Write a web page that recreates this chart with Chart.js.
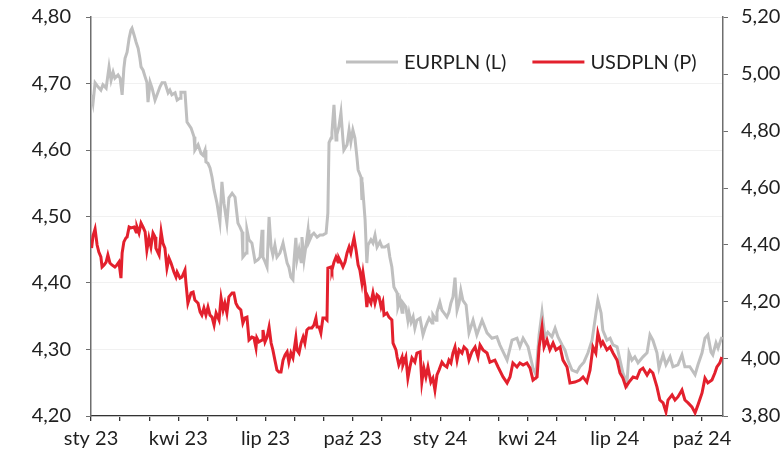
<!DOCTYPE html>
<html lang="pl">
<head>
<meta charset="utf-8">
<title>EURPLN i USDPLN</title>
<script src="https://cdn.jsdelivr.net/npm/chart.js@4.4.1/dist/chart.umd.min.js"></script>
<style>
  html, body { margin: 0; padding: 0; background: #fff; }
  #wrap { position: relative; width: 783px; height: 452px; }
</style>
</head>
<body>
<div id="wrap"><canvas id="fxChart"></canvas></div>
<script>
// x = months since start of Jan 2023
const eurMonths = [
  0.02, 0.07, 0.14, 0.24, 0.34, 0.41, 0.52, 0.62, 0.69, 0.76, 0.82, 0.93, 1.00, 1.07, 1.13, 1.17,
  1.24, 1.31, 1.37, 1.41, 1.48, 1.55, 1.62, 1.68, 1.72, 1.79, 1.86, 1.92, 1.96, 2.03, 2.10, 2.20,
  2.27, 2.37, 2.44, 2.54, 2.65, 2.71, 2.78, 2.89, 2.96, 3.06, 3.09, 3.23, 3.30, 3.44, 3.54, 3.57,
  3.68, 3.78, 3.85, 3.92, 3.95, 4.02, 4.09, 4.16, 4.23, 4.33, 4.43, 4.50, 4.57, 4.67, 4.74, 4.85,
  4.95, 5.05, 5.12, 5.19, 5.22, 5.33, 5.36, 5.43, 5.53, 5.57, 5.64, 5.74, 5.81, 5.88, 5.91, 5.98,
  6.05, 6.12, 6.19, 6.25, 6.32, 6.39, 6.49, 6.56, 6.60, 6.67, 6.74, 6.80, 6.87, 6.94, 6.98, 7.04,
  7.08, 7.15, 7.22, 7.25, 7.32, 7.39, 7.46, 7.49, 7.59, 7.66, 7.77, 7.87, 7.97, 8.08, 8.14, 8.18,
  8.25, 8.28, 8.35, 8.42, 8.45, 8.52, 8.59, 8.66, 8.69, 8.80, 8.87, 8.93, 9.00, 9.07, 9.14, 9.18,
  9.28, 9.31, 9.35, 9.42, 9.48, 9.52, 9.62, 9.69, 9.76, 9.83, 9.93, 10.00, 10.10, 10.21, 10.27, 10.34,
  10.41, 10.52, 10.55, 10.62, 10.69, 10.72, 10.82, 10.89, 10.93, 11.00, 11.07, 11.13, 11.20, 11.31, 11.41, 11.48,
  11.55, 11.62, 11.72, 11.75, 11.86, 11.89, 11.99, 12.06, 12.13, 12.23, 12.30, 12.37, 12.44, 12.51, 12.58, 12.65,
  12.71, 12.78, 12.89, 12.99, 13.13, 13.26, 13.44, 13.61, 13.78, 13.95, 14.05, 14.30, 14.47, 14.64, 14.74, 14.85,
  15.02, 15.19, 15.29, 15.40, 15.50, 15.60, 15.70, 15.84, 15.95, 16.05, 16.19, 16.29, 16.39, 16.53, 16.70, 16.80,
  16.94, 17.08, 17.22, 17.32, 17.42, 17.53, 17.59, 17.73, 17.84, 17.94, 18.08, 18.18, 18.28, 18.42, 18.49, 18.59,
  18.69, 18.80, 18.97, 19.11, 19.21, 19.31, 19.45, 19.52, 19.66, 19.76, 19.90, 20.00, 20.17, 20.31, 20.41, 20.58,
  20.76, 20.86, 21.00, 21.10, 21.20, 21.31, 21.37, 21.48, 21.55, 21.68
];
const eurValues = [
  4.683, 4.671, 4.701, 4.695, 4.690, 4.698, 4.693, 4.725, 4.705, 4.717, 4.708, 4.713, 4.708, 4.683, 4.723, 4.738,
  4.747, 4.768, 4.780, 4.783, 4.773, 4.762, 4.753, 4.738, 4.725, 4.720, 4.710, 4.702, 4.672, 4.702, 4.693, 4.675,
  4.683, 4.695, 4.701, 4.701, 4.686, 4.690, 4.683, 4.686, 4.675, 4.678, 4.687, 4.687, 4.642, 4.633, 4.620, 4.600,
  4.608, 4.595, 4.592, 4.600, 4.582, 4.580, 4.573, 4.559, 4.540, 4.520, 4.492, 4.552, 4.520, 4.490, 4.528, 4.535,
  4.529, 4.490, 4.484, 4.477, 4.439, 4.445, 4.480, 4.465, 4.460, 4.450, 4.432, 4.435, 4.439, 4.480, 4.439, 4.432,
  4.424, 4.499, 4.454, 4.442, 4.457, 4.439, 4.445, 4.454, 4.460, 4.445, 4.430, 4.424, 4.409, 4.405, 4.435, 4.468,
  4.435, 4.450, 4.432, 4.469, 4.435, 4.457, 4.480, 4.462, 4.472, 4.475, 4.469, 4.472, 4.472, 4.475, 4.505, 4.611,
  4.618, 4.626, 4.668, 4.615, 4.623, 4.635, 4.656, 4.615, 4.600, 4.608, 4.630, 4.612, 4.630, 4.618, 4.589, 4.570,
  4.559, 4.525, 4.535, 4.495, 4.430, 4.457, 4.465, 4.460, 4.472, 4.454, 4.462, 4.454, 4.454, 4.457, 4.439, 4.424,
  4.394, 4.385, 4.364, 4.374, 4.356, 4.370, 4.364, 4.344, 4.355, 4.341, 4.349, 4.332, 4.344, 4.347, 4.322, 4.332,
  4.340, 4.347, 4.340, 4.352, 4.344, 4.356, 4.371, 4.359, 4.355, 4.349, 4.356, 4.370, 4.379, 4.408, 4.359, 4.370,
  4.389, 4.374, 4.367, 4.325, 4.344, 4.322, 4.344, 4.325, 4.317, 4.319, 4.307, 4.284, 4.314, 4.317, 4.304, 4.317,
  4.304, 4.272, 4.262, 4.322, 4.356, 4.319, 4.326, 4.319, 4.332, 4.319, 4.307, 4.299, 4.284, 4.269, 4.266, 4.274,
  4.281, 4.295, 4.314, 4.344, 4.374, 4.355, 4.329, 4.314, 4.317, 4.307, 4.304, 4.284, 4.265, 4.250, 4.295, 4.284,
  4.289, 4.280, 4.289, 4.295, 4.322, 4.314, 4.295, 4.272, 4.292, 4.277, 4.289, 4.274, 4.277, 4.292, 4.274, 4.274,
  4.262, 4.277, 4.295, 4.317, 4.322, 4.296, 4.292, 4.310, 4.302, 4.319
];

const usdMonths = [
  0.02, 0.07, 0.14, 0.21, 0.27, 0.34, 0.38, 0.45, 0.52, 0.58, 0.65, 0.72, 0.82, 0.89, 0.96, 1.03,
  1.07, 1.13, 1.20, 1.24, 1.31, 1.37, 1.48, 1.55, 1.58, 1.65, 1.72, 1.79, 1.86, 1.92, 1.99, 2.06,
  2.13, 2.20, 2.23, 2.34, 2.41, 2.47, 2.54, 2.61, 2.68, 2.75, 2.85, 2.92, 2.96, 3.06, 3.13, 3.23,
  3.26, 3.33, 3.44, 3.51, 3.57, 3.68, 3.75, 3.81, 3.88, 3.95, 4.02, 4.09, 4.16, 4.23, 4.30, 4.40,
  4.47, 4.54, 4.60, 4.67, 4.74, 4.85, 4.91, 4.98, 5.05, 5.15, 5.22, 5.29, 5.36, 5.43, 5.53, 5.60,
  5.67, 5.70, 5.77, 5.88, 5.91, 5.98, 6.05, 6.12, 6.19, 6.25, 6.32, 6.39, 6.46, 6.53, 6.60, 6.67,
  6.74, 6.80, 6.87, 6.94, 7.04, 7.08, 7.15, 7.22, 7.29, 7.35, 7.42, 7.49, 7.59, 7.66, 7.73, 7.77,
  7.84, 7.90, 7.97, 8.04, 8.11, 8.14, 8.25, 8.28, 8.35, 8.42, 8.49, 8.52, 8.59, 8.66, 8.73, 8.80,
  8.87, 8.93, 9.00, 9.04, 9.11, 9.18, 9.24, 9.31, 9.35, 9.42, 9.48, 9.52, 9.62, 9.69, 9.76, 9.83,
  9.90, 9.97, 10.03, 10.07, 10.17, 10.24, 10.34, 10.38, 10.48, 10.52, 10.58, 10.69, 10.72, 10.82, 10.89, 10.96,
  11.03, 11.13, 11.20, 11.31, 11.37, 11.44, 11.51, 11.58, 11.68, 11.75, 11.82, 11.89, 11.96, 12.06, 12.13, 12.23,
  12.30, 12.37, 12.44, 12.51, 12.58, 12.65, 12.75, 12.82, 12.92, 12.99, 13.09, 13.20, 13.30, 13.37, 13.47, 13.61,
  13.71, 13.88, 13.99, 14.16, 14.30, 14.40, 14.50, 14.64, 14.74, 14.85, 14.98, 15.09, 15.19, 15.33, 15.40, 15.50,
  15.57, 15.67, 15.77, 15.88, 15.98, 16.12, 16.22, 16.36, 16.46, 16.63, 16.80, 16.91, 17.04, 17.15, 17.25, 17.35,
  17.42, 17.53, 17.59, 17.73, 17.84, 17.94, 18.08, 18.18, 18.28, 18.38, 18.49, 18.63, 18.76, 18.87, 18.97, 19.11,
  19.21, 19.31, 19.45, 19.55, 19.66, 19.76, 19.83, 19.97, 20.07, 20.17, 20.31, 20.41, 20.52, 20.65, 20.76, 20.86,
  21.00, 21.10, 21.20, 21.34, 21.44, 21.51, 21.61, 21.68
];
const usdValues = [
  4.389, 4.432, 4.456, 4.400, 4.375, 4.358, 4.323, 4.330, 4.340, 4.365, 4.337, 4.330, 4.323, 4.330, 4.340, 4.284,
  4.372, 4.411, 4.425, 4.428, 4.463, 4.460, 4.463, 4.446, 4.463, 4.442, 4.477, 4.463, 4.446, 4.382, 4.425, 4.393,
  4.442, 4.428, 4.389, 4.365, 4.446, 4.407, 4.389, 4.319, 4.354, 4.337, 4.305, 4.288, 4.305, 4.284, 4.288, 4.312,
  4.270, 4.196, 4.232, 4.235, 4.207, 4.196, 4.165, 4.154, 4.179, 4.154, 4.182, 4.154, 4.147, 4.119, 4.161, 4.137,
  4.214, 4.172, 4.196, 4.161, 4.218, 4.232, 4.232, 4.196, 4.182, 4.172, 4.126, 4.144, 4.147, 4.067, 4.077, 4.074,
  4.039, 4.074, 4.060, 4.067, 4.102, 4.060, 4.077, 4.112, 4.056, 4.032, 3.996, 3.961, 3.954, 3.954, 3.996, 4.014,
  4.025, 3.989, 4.021, 4.004, 4.074, 4.032, 4.021, 4.056, 4.077, 4.056, 4.102, 4.109, 4.109, 4.119, 4.144, 4.112,
  4.112, 4.091, 4.144, 4.144, 4.137, 4.319, 4.323, 4.312, 4.340, 4.358, 4.340, 4.354, 4.340, 4.323, 4.340, 4.372,
  4.393, 4.372, 4.407, 4.425, 4.382, 4.330, 4.312, 4.267, 4.302, 4.253, 4.182, 4.218, 4.196, 4.232, 4.196, 4.225,
  4.218, 4.182, 4.200, 4.154, 4.161, 4.147, 4.137, 4.056, 4.032, 4.007, 3.979, 4.007, 3.979, 4.007, 3.933, 3.972,
  4.004, 3.989, 4.021, 4.025, 3.919, 3.968, 3.937, 3.972, 3.919, 3.933, 3.891, 3.944, 3.961, 3.989, 3.979, 3.972,
  3.996, 3.986, 4.021, 4.042, 3.996, 4.032, 4.021, 4.042, 4.032, 3.996, 4.025, 4.042, 4.007, 4.049, 4.032, 4.021,
  3.989, 3.996, 3.972, 3.937, 3.916, 3.937, 3.986, 3.972, 3.986, 3.979, 3.986, 3.968, 3.926, 3.937, 4.042, 4.112,
  4.042, 4.067, 4.032, 4.056, 4.032, 4.042, 3.996, 3.972, 3.916, 3.919, 3.926, 3.937, 3.919, 3.961, 4.042, 4.021,
  4.091, 4.049, 4.060, 4.032, 4.042, 4.021, 3.996, 3.951, 3.933, 3.902, 3.919, 3.937, 3.933, 3.961, 3.968, 3.944,
  3.961, 3.951, 3.902, 3.856, 3.846, 3.814, 3.856, 3.874, 3.856, 3.867, 3.891, 3.856, 3.846, 3.832, 3.811, 3.839,
  3.881, 3.933, 3.916, 3.926, 3.951, 3.972, 3.986, 4.007
];

const quarterLabels = ['sty 23', 'kwi 23', 'lip 23', 'paź 23', 'sty 24', 'kwi 24', 'lip 24', 'paź 24'];
const seriesNames = ['EURPLN (L)', 'USDPLN (P)'];

const FONT = 'Lato, "Open Sans", sans-serif';
const TEXT = '#1f1f1f';
const AXIS = '#6e6e6e';
const GREY = '#bfbfbf';
const RED = '#e3202d';

const toPoints = (xs, ys) => xs.map((x, i) => ({ x: x, y: ys[i] }));
const comma = v => v.toFixed(2).replace('.', ',');

// fixed widths for the value axes; top/bottom label padding is handled by layout.padding
const fitSide = width => s => {
  s.width = width;
  s.paddingTop = 0;
  s.paddingBottom = 0;
};

// legend drawn inside the plot, top right
const lineLegend = {
  id: 'lineLegend',
  afterDraw(chart) {
    const ctx = chart.ctx;
    const area = chart.chartArea;
    let x = area.left + 255;
    const y = area.top + 45;
    ctx.save();
    ctx.font = '20px ' + FONT;
    ctx.textBaseline = 'middle';
    ctx.textAlign = 'left';
    chart.data.datasets.forEach(ds => {
      ctx.strokeStyle = ds.borderColor;
      ctx.lineWidth = 3;
      ctx.beginPath();
      ctx.moveTo(x, y);
      ctx.lineTo(x + 52, y);
      ctx.stroke();
      ctx.fillStyle = TEXT;
      ctx.fillText(ds.label, x + 58, y + 1);
      x += 58 + ctx.measureText(ds.label).width + 26;
    });
    ctx.restore();
  }
};

new Chart(document.getElementById('fxChart'), {
  type: 'line',
  data: {
    datasets: [
      {
        label: seriesNames[0],
        data: toPoints(eurMonths, eurValues),
        yAxisID: 'yL',
        borderColor: GREY,
        borderWidth: 3,
        pointRadius: 0,
        tension: 0,
        order: 1
      },
      {
        label: seriesNames[1],
        data: toPoints(usdMonths, usdValues),
        yAxisID: 'yR',
        borderColor: RED,
        borderWidth: 3,
        pointRadius: 0,
        tension: 0,
        order: 0
      }
    ]
  },
  options: {
    responsive: true,
    maintainAspectRatio: false,
    animation: false,
    layout: { padding: { top: 17, left: 0, right: 0, bottom: 0 } },
    plugins: {
      legend: { display: false },
      tooltip: { enabled: false }
    },
    scales: {
      x: {
        type: 'linear',
        min: 0,
        max: 21.72,
        afterFit: s => { s.height = 36; },
        border: { color: '#333', width: 1.3 },
        grid: { drawOnChartArea: false, tickLength: 5, tickColor: '#333', lineWidth: 1.3 },
        ticks: {
          stepSize: 1,
          includeBounds: false,
          autoSkip: false,
          maxRotation: 0,
          padding: 6,
          color: TEXT,
          font: { family: FONT, size: 20 },
          callback: v => (v % 3 === 0 ? quarterLabels[v / 3] : '')
        }
      },
      yL: {
        position: 'left',
        min: 4.2,
        max: 4.8,
        afterFit: fitSide(91),
        border: { color: AXIS, width: 1.5 },
        grid: { color: '#f1f1f1', lineWidth: 1, tickLength: 5, tickColor: AXIS },
        ticks: {
          stepSize: 0.1,
          padding: 15,
          color: TEXT,
          font: { family: FONT, size: 20 },
          callback: v => comma(v)
        }
      },
      yR: {
        position: 'right',
        min: 3.8,
        max: 5.2,
        afterFit: fitSide(60),
        border: { color: AXIS, width: 1.5 },
        grid: { drawOnChartArea: false, tickLength: 5, tickColor: AXIS },
        ticks: {
          stepSize: 0.2,
          padding: 13,
          color: TEXT,
          font: { family: FONT, size: 20 },
          callback: v => comma(v)
        }
      }
    }
  },
  plugins: [lineLegend]
});
</script>
</body>
</html>
